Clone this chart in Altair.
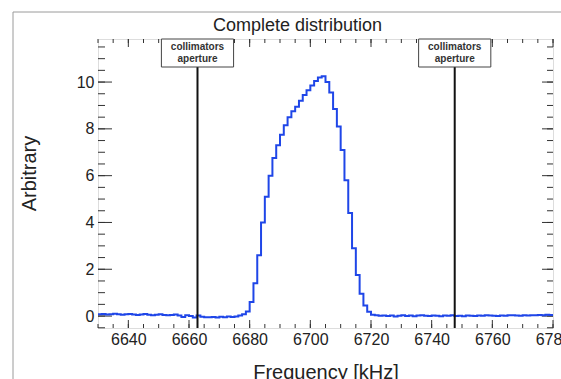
import altair as alt
import pandas as pd

FONT = "Liberation Sans"

# ---- data ----
title_text = "Complete distribution"
bin_start = 6630.0
bin_width = 1.25
counts = [
    0.08, 0.09, 0.07, 0.08, 0.10, 0.08, 0.06, 0.08, 0.09, 0.07,
    0.05, 0.07, 0.09, 0.06, 0.04, 0.06, 0.08, 0.05, 0.03, 0.05,
    0.07, 0.02, -0.04, 0.03, 0.00, -0.06, 0.02, -0.03, -0.05, -0.05,
    -0.04, -0.06, -0.03, -0.05, -0.02, -0.04, -0.02,
    0.02, 0.08, 0.2, 0.6, 1.4, 2.6, 4.0, 5.1, 6.0, 6.75,
    7.3, 7.75, 8.15, 8.5, 8.75, 8.95, 9.2, 9.45, 9.65, 9.85,
    10.05, 10.2, 10.25, 10.0, 9.55, 8.85, 8.1, 7.1, 5.8, 4.4,
    2.9, 1.75, 0.95, 0.45, 0.18, 0.06,
    0.03, 0.01, 0.02, 0.00, 0.02, -0.02, 0.01, 0.03, 0.00, 0.02,
    -0.01, 0.02, 0.04, 0.01, 0.00, 0.02, 0.01, -0.01, 0.02, 0.01,
    0.03, 0.00, 0.01, -0.01, 0.02, 0.01, 0.00, 0.02, 0.01, 0.03,
    0.02, 0.01, 0.00, 0.02, 0.01, 0.03, 0.04, 0.02, 0.01, 0.03,
    0.02, 0.04, 0.03, 0.05, 0.04, 0.06, 0.05,
]
aperture_pos = [6662.8, 6747.6]
aperture_line1 = "collimators"
aperture_line2 = "aperture"
x_major = [6640, 6660, 6680, 6700, 6720, 6740, 6760, 6780]
x_minor = list(range(6630, 6781, 5))
y_major = [0, 2, 4, 6, 8, 10]
y_minor = [v / 2 for v in range(-1, 24)]
x_domain = [6630, 6780]
y_domain = [-0.51, 11.84]

W, H = 455, 289

edges = [bin_start + i * bin_width for i in range(len(counts) + 1)]
hist_df = pd.DataFrame({"freq": edges, "val": counts + [counts[-1]]})
ap_df = pd.DataFrame({"pos": aperture_pos,
                      "l1": [aperture_line1] * 2,
                      "l2": [aperture_line2] * 2})
xmaj_df = pd.DataFrame({"t": x_major})
xmin_df = pd.DataFrame({"t": x_minor})
ymaj_df = pd.DataFrame({"t": y_major})
ymin_df = pd.DataFrame({"t": y_minor})
title_df = pd.DataFrame({"txt": [title_text]})

xs = alt.Scale(domain=x_domain, nice=False, zero=False)
ys = alt.Scale(domain=y_domain, nice=False, zero=False)

xaxis = alt.Axis(values=x_major, format="d", ticks=False, tickSize=0, domain=False,
                 grid=False, labelFont=FONT, labelFontSize=16, labelColor="#222",
                 labelFlush=False, labelOverlap=False, labelBound=False,
                 labelPadding=3, title="Frequency [kHz]", titleFont=FONT,
                 titleFontSize=20, titleFontWeight="normal", titleColor="#222",
                 titleX=W / 2, titleY=44, titleBaseline="middle", titleAlign="center")
yaxis = alt.Axis(values=y_major, format="d", ticks=False, tickSize=0, domain=False,
                 grid=False, labelFont=FONT, labelFontSize=16, labelColor="#222",
                 labelFlush=False, labelOverlap=False, labelBound=False,
                 labelPadding=4, title="Arbitrary", titleFont=FONT,
                 titleFontSize=20, titleFontWeight="normal", titleColor="#222",
                 titleX=-69, titleY=134, titleAngle=-90, titleBaseline="middle",
                 titleAlign="center")

# canvas frame (decoration)
frame = alt.Chart(pd.DataFrame({"a": [0]})).mark_rect(
    fillOpacity=0, stroke="#9a9a9a", strokeWidth=1
).encode(x=alt.value(-85), x2=alt.value(520), y=alt.value(-27), y2=alt.value(400))

title = alt.Chart(title_df).mark_text(
    font=FONT, fontSize=18, color="#222", align="center", baseline="alphabetic"
).encode(x=alt.value(W / 2 - 28), y=alt.value(-8), text="txt:N")

def vticks(df, y0, y1):
    return alt.Chart(df).mark_rule(color="#333", strokeWidth=1).encode(
        x=alt.X("t:Q", scale=xs, axis=xaxis), y=alt.value(y0), y2=alt.value(y1))

def hticks(df, x0, x1):
    return alt.Chart(df).mark_rule(color="#333", strokeWidth=1).encode(
        y=alt.Y("t:Q", scale=ys, axis=yaxis), x=alt.value(x0), x2=alt.value(x1))

ticks = [
    vticks(xmaj_df, H, H - 8), vticks(xmin_df, H, H - 4),
    vticks(xmaj_df, 0, 8), vticks(xmin_df, 0, 4),
    hticks(ymaj_df, 0, 14), hticks(ymin_df, 0, 7),
    hticks(ymaj_df, W, W - 11), hticks(ymin_df, W, W - 6),
]

hist = alt.Chart(hist_df).mark_line(
    interpolate="step-after", color="#1f46e8", strokeWidth=2, clip=True
).encode(
    x=alt.X("freq:Q", scale=xs, axis=xaxis),
    y=alt.Y("val:Q", scale=ys, axis=yaxis),
)

ap_lines = alt.Chart(ap_df).mark_rule(color="#111", strokeWidth=2).encode(
    x=alt.X("pos:Q", scale=xs, axis=xaxis), y=alt.value(28), y2=alt.value(H)
)

ap_box = alt.Chart(ap_df).transform_calculate(
    lo="datum.pos - 11.9", hi="datum.pos + 11.9"
).mark_rect(fill="white", stroke="#444", strokeWidth=1).encode(
    x=alt.X("lo:Q", scale=xs, axis=xaxis), x2="hi:Q",
    y=alt.value(0), y2=alt.value(28)
)

ap_t1 = alt.Chart(ap_df).mark_text(
    font=FONT, fontSize=10, fontWeight="bold", color="#333", baseline="middle"
).encode(x=alt.X("pos:Q", scale=xs, axis=xaxis), y=alt.value(8), text="l1:N")

ap_t2 = alt.Chart(ap_df).mark_text(
    font=FONT, fontSize=10, fontWeight="bold", color="#333", baseline="middle"
).encode(x=alt.X("pos:Q", scale=xs, axis=xaxis), y=alt.value(20), text="l2:N")

chart = alt.layer(frame, title, *ticks, hist, ap_lines, ap_box, ap_t1, ap_t2).properties(
    width=W, height=H,
    autosize=alt.AutoSizeParams(type="none"),
    padding={"left": 98, "top": 39, "right": 8, "bottom": 51},
).configure_view(stroke="#333", strokeWidth=1).configure(background="white")

chart.save("out.html", embed_options={"renderer": "svg", "actions": False})
